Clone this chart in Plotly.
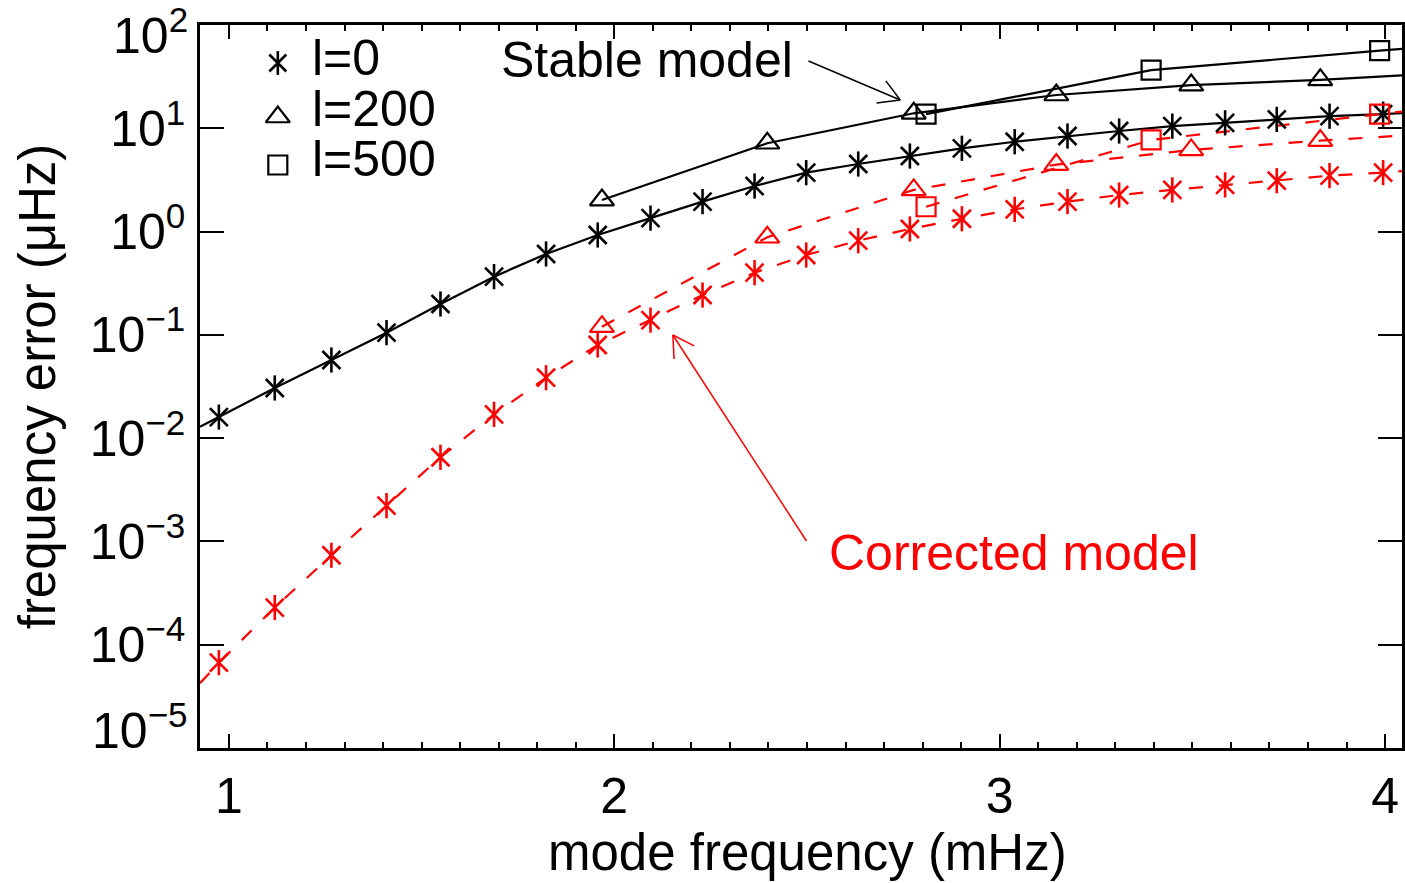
import math
import plotly.graph_objects as go

# ---------------- data ----------------
# mode frequency (mHz) of the l=0 modes
freq_l0 = [0.974, 1.119, 1.266, 1.409, 1.549, 1.688, 1.823, 1.957, 2.094, 2.229,
           2.364, 2.498, 2.633, 2.767, 2.902, 3.039, 3.176, 3.310, 3.448, 3.585,
           3.719, 3.856, 3.995]
# frequency error (uHz), stable model
err_l0_stable = [0.016, 0.0306, 0.0571, 0.105, 0.199, 0.366, 0.607, 0.927, 1.35, 1.95,
                 2.76, 3.72, 4.51, 5.39, 6.40, 7.41, 8.42, 9.41, 10.5, 11.3,
                 12.2, 13.1, 13.7]
# frequency error (uHz), corrected model
err_l0_corrected = [6.7e-5, 2.29e-4, 7.35e-4, 2.22e-3, 6.53e-3, 0.0170, 0.0385, 0.0798, 0.139, 0.243,
                    0.400, 0.593, 0.816, 1.06, 1.33, 1.64, 1.95, 2.26, 2.53, 2.83,
                    3.11, 3.48, 3.72]

freq_l200 = [1.968, 2.397, 2.777, 3.147, 3.497, 3.832]
err_l200_stable = [2.02, 7.16, 13.97, 21.0, 26.2, 29.4]
err_l200_corrected = [0.120, 0.881, 2.53, 4.45, 6.17, 7.6]

freq_l500 = [2.809, 3.393, 3.986]
err_l500_stable = [13.7, 36.6, 56.4]
err_l500_corrected = [1.74, 7.71, 13.7]

# the curves continue past the plotted markers up to the frame
curve_left_freq = 0.925
curve_right_freq = 4.044
l0_stable_ends = [0.0129, 14.0]
l0_corrected_ends = [4.24e-5, 3.85]
l200_stable_end = 32.5
l200_corrected_end = 8.5
l500_stable_end = 58.6
l500_corrected_end = 14.5

x_tick_vals = [1, 2, 3, 4]
y_tick_exponents = [-5, -4, -3, -2, -1, 0, 1, 2]
legend_labels = ["l=0", "l=200", "l=500"]

# ---------------- styling ----------------
FONT = "Liberation Sans, Arial, Helvetica, sans-serif"
BLACK = "#000000"
RED = "#ff0000"
W, H = 1405, 883
L, R, T, B = 200, 0, 25, 135
PW, PH = W - L - R, H - T - B
DASH = "14px,16px"
LW = 2.2
TRI = 21
SQ = 19

fig = go.Figure()


def add_line(x, y, color, dash):
    fig.add_trace(go.Scatter(x=x, y=y, mode="lines", showlegend=False, hoverinfo="skip",
                             line=dict(color=color, width=LW, dash=dash)))


def add_star(x, y, color, xaxis="x", yaxis="y", size=18):
    for sym in ("x-thin-open", "line-ns-open"):
        fig.add_trace(go.Scatter(x=x, y=y, mode="markers", showlegend=False, cliponaxis=False,
                                 xaxis=xaxis, yaxis=yaxis,
                                 marker=dict(symbol=sym, size=size, color=color,
                                             line=dict(color=color, width=2.6))))


def add_marker(x, y, color, symbol, size, xaxis="x", yaxis="y"):
    fig.add_trace(go.Scatter(x=x, y=y, mode="markers", showlegend=False, cliponaxis=False,
                             xaxis=xaxis, yaxis=yaxis,
                             marker=dict(symbol=symbol, size=size, color=color,
                                         line=dict(color=color, width=2.2))))


# curves
add_line([curve_left_freq] + freq_l0 + [curve_right_freq],
         [l0_stable_ends[0]] + err_l0_stable + [l0_stable_ends[1]], BLACK, "solid")
add_line([curve_left_freq] + freq_l0 + [curve_right_freq],
         [l0_corrected_ends[0]] + err_l0_corrected + [l0_corrected_ends[1]], RED, DASH)
add_line(freq_l200 + [curve_right_freq], err_l200_stable + [l200_stable_end], BLACK, "solid")
add_line(freq_l200 + [curve_right_freq], err_l200_corrected + [l200_corrected_end], RED, DASH)
add_line(freq_l500 + [curve_right_freq], err_l500_stable + [l500_stable_end], BLACK, "solid")
add_line(freq_l500 + [curve_right_freq], err_l500_corrected + [l500_corrected_end], RED, DASH)

# markers
add_star(freq_l0, err_l0_stable, BLACK)
add_star(freq_l0, err_l0_corrected, RED)
add_marker(freq_l200, err_l200_stable, BLACK, "triangle-up-open", TRI)
add_marker(freq_l200, err_l200_corrected, RED, "triangle-up-open", TRI)
add_marker(freq_l500, err_l500_stable, BLACK, "square-open", SQ)
add_marker(freq_l500, err_l500_corrected, RED, "square-open", SQ)

# ---------------- legend (drawn in a pixel-space overlay) ----------------
leg_sym_x = 278
leg_sym_y = [63, 117, 165]
leg_text_x = 310
leg_text_y = [58, 109, 159]
add_star([leg_sym_x], [leg_sym_y[0]], BLACK, "x2", "y2", 17)
add_marker([leg_sym_x], [leg_sym_y[1]], BLACK, "triangle-up-open", TRI, "x2", "y2")
add_marker([leg_sym_x], [leg_sym_y[2]], BLACK, "square-open", SQ, "x2", "y2")

annotations = []
for lab, ty in zip(legend_labels, leg_text_y):
    annotations.append(dict(x=leg_text_x, y=ty, xref="x2", yref="y2", text=lab, showarrow=False,
                            xanchor="left", yanchor="middle", height=48, valign="middle",
                            font=dict(size=50, color=BLACK, family=FONT)))

annotations.append(dict(x=500, y=60, xref="x2", yref="y2", text="Stable model", showarrow=False,
                        xanchor="left", yanchor="middle", font=dict(size=50, color=BLACK, family=FONT)))
annotations.append(dict(x=829, y=553, xref="x2", yref="y2", text="Corrected model", showarrow=False,
                        xanchor="left", yanchor="middle", font=dict(size=50, color=RED, family=FONT)))


def sup_label(e):
    s = str(e).replace("-", "\u2212")
    return "10<sup>%s</sup>" % s


def paper_x(px):
    return (px - L) / PW


def paper_y(py):
    return 1 - (py - T) / PH


# interior y tick labels from the axis; the end labels are nudged inwards as in the reference
inner_exp = y_tick_exponents[1:-1]
y_tick_vals = [10.0 ** e for e in inner_exp]
y_tick_text = [sup_label(e) for e in inner_exp]
annotations.append(dict(x=paper_x(190), y=paper_y(32), xref="paper", yref="paper",
                        text=sup_label(y_tick_exponents[-1]),
                        showarrow=False, xanchor="right", yanchor="middle",
                        font=dict(size=50, color=BLACK, family=FONT)))
annotations.append(dict(x=paper_x(190), y=paper_y(727), xref="paper", yref="paper",
                        text=sup_label(y_tick_exponents[0]),
                        showarrow=False, xanchor="right", yanchor="middle",
                        font=dict(size=50, color=BLACK, family=FONT)))

# x-axis title placed as in the reference (slightly right of the plot centre)
annotations.append(dict(x=paper_x(809), y=paper_y(852), xref="paper", yref="paper",
                        text="mode frequency (mHz)", showarrow=False, xanchor="center", yanchor="middle",
                        font=dict(size=51, color=BLACK, family=FONT)))


def arrow_shapes(tail, tip, color, head=24, ang=30):
    dx, dy = tail[0] - tip[0], tail[1] - tip[1]
    n = math.hypot(dx, dy)
    ux, uy = dx / n, dy / n
    out = [dict(type="line", xref="x2", yref="y2", x0=tail[0], y0=tail[1], x1=tip[0], y1=tip[1],
                line=dict(color=color, width=1.5))]
    for s in (1, -1):
        a = math.radians(ang * s)
        vx = ux * math.cos(a) - uy * math.sin(a)
        vy = ux * math.sin(a) + uy * math.cos(a)
        out.append(dict(type="line", xref="x2", yref="y2", x0=tip[0], y0=tip[1],
                        x1=tip[0] + head * vx, y1=tip[1] + head * vy,
                        line=dict(color=color, width=1.5)))
    return out


shapes = arrow_shapes((810, 61), (902, 100), BLACK) + arrow_shapes((808, 541), (674, 335), RED)

axis_common = dict(showline=True, linecolor=BLACK, linewidth=2.5, mirror="ticks", ticks="inside",
                   tickcolor=BLACK, tickwidth=2, showgrid=False, zeroline=False,
                   tickfont=dict(size=50, color=BLACK, family=FONT))

fig.update_layout(
    width=W, height=H,
    margin=dict(l=L, r=R, t=T, b=B, pad=0),
    paper_bgcolor="white", plot_bgcolor="white",
    showlegend=False,
    font=dict(family=FONT, color=BLACK),
    xaxis=dict(range=[curve_left_freq, curve_right_freq], tickmode="array", tickvals=x_tick_vals,
               ticktext=[str(v) for v in x_tick_vals], ticklen=14, ticklabelstandoff=2,
               minor=dict(dtick=0.1, tick0=0, ticklen=6, tickwidth=2, tickcolor=BLACK, ticks="inside"),
               **axis_common),
    yaxis=dict(type="log", range=[y_tick_exponents[0], y_tick_exponents[-1]], tickmode="array",
               tickvals=y_tick_vals, ticktext=y_tick_text, ticklen=24, ticklabelstandoff=2,
               title=dict(text="frequency error (\u03bcHz)", font=dict(size=51, color=BLACK, family=FONT),
                          standoff=18),
               **axis_common),
    xaxis2=dict(overlaying="x", range=[L, W - R], visible=False, fixedrange=True),
    yaxis2=dict(overlaying="y", range=[H - B, T], visible=False, fixedrange=True),
    annotations=annotations,
    shapes=shapes,
)

fig.write_html("out.html")
